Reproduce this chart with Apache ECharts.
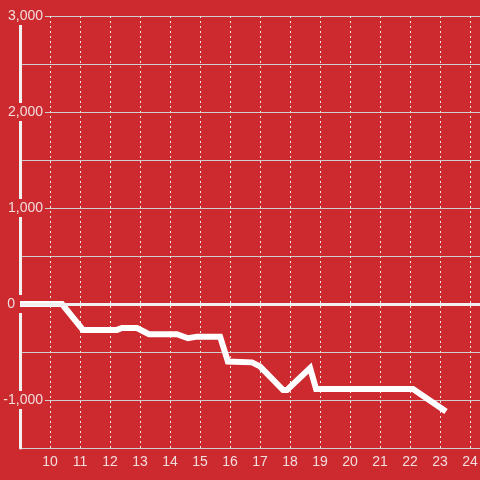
<!DOCTYPE html>
<html>
<head>
<meta charset="utf-8">
<script src="https://cdn.jsdelivr.net/npm/echarts@6/dist/echarts.min.js"></script>
<style>
html,body{margin:0;padding:0;background:#cc2a2f;}
#c{width:480px;height:480px;}
</style>
</head>
<body>
<div id="c"></div>
<script>
var xValues = [9, 10.4, 11.1, 12.23, 12.4, 12.9, 13.3, 14.23, 14.6, 14.9, 15.67, 15.93, 16.73, 17.0, 17.77, 17.9, 18.67, 18.87, 22.1, 23.2];
var yValues = [0, 0, -270, -270, -250, -250, -315, -315, -357, -340, -340, -600, -608, -650, -896, -896, -667, -885, -885, -1120];
var yTicks = [-1000, 0, 1000, 2000, 3000];

var points = xValues.map(function (x, i) { return [x, yValues[i]]; });
var TEXT = '#f3dcdc';
var BG = '#cc2a2f';

var chart = echarts.init(document.getElementById('c'));
chart.setOption({
  backgroundColor: BG,
  animation: false,
  textStyle: { fontFamily: 'Liberation Sans' },
  grid: { left: 20, right: 0, top: 16, bottom: 32, containLabel: false, outerBoundsMode: 'none' },
  xAxis: {
    type: 'value',
    min: 9,
    max: 24.3333,
    interval: 1,
    axisLine: { show: false },
    axisTick: { show: false },
    splitLine: { show: true, lineStyle: { color: '#e6e6e6', width: 1, type: [2, 3] } },
    axisLabel: {
      color: TEXT, fontSize: 14, margin: 7, hideOverlap: false,
      formatter: function (v) { return (Math.abs(v - Math.round(v)) < 1e-6 && v >= 10 && v <= 24) ? String(Math.round(v)) : ''; }
    }
  },
  yAxis: {
    type: 'value',
    min: -1500,
    max: 3000,
    interval: 500,
    axisLine: { show: true, lineStyle: { color: '#f2f2f2', width: 3 } },
    axisTick: { show: false },
    splitLine: { show: true, lineStyle: { color: '#cfcfcf', width: 1 } },
    axisLabel: {
      margin: -25,
      formatter: function (v) {
        if (v % 1000 !== 0) return '';
        if (yTicks.indexOf(v) < 0) return '';
        if (v === 0) return '{z|0}';
        return '{n|' + v.toLocaleString('en-US') + '}';
      },
      rich: {
        n: { color: TEXT, fontSize: 14, fontFamily: 'Liberation Sans', backgroundColor: BG, padding: [2, 2, 2, 2] },
        z: { color: TEXT, fontSize: 14, fontFamily: 'Liberation Sans', backgroundColor: BG, padding: [2, 30, 2, 2] }
      }
    }
  },
  series: [{
    type: 'line',
    data: points,
    showSymbol: false,
    symbol: 'none',
    lineStyle: { color: '#ffffff', width: 6, cap: 'butt', join: 'miter' },
    markLine: {
      silent: true,
      symbol: 'none',
      label: { show: false },
      lineStyle: { color: '#f0f0f0', width: 3, type: 'solid' },
      data: [{ yAxis: 0 }]
    },
    z: 3
  }]
});
</script>
</body>
</html>
